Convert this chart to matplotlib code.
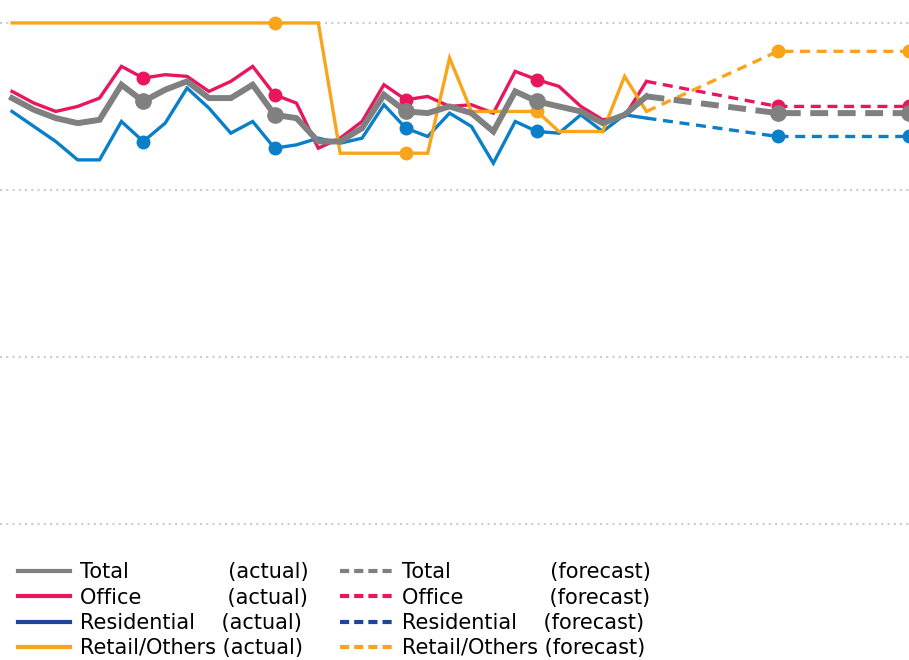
import matplotlib
matplotlib.use("Agg")
import matplotlib.pyplot as plt
from matplotlib.lines import Line2D

# actual series: 30 periods, forecast: 3 points (last actual + 2 ahead)
actual_periods = list(range(30))
forecast_periods = [29, 35, 41]

total_actual = [25.5, 24.8, 24.3, 24.0, 24.2, 26.3, 25.3, 26.0, 26.5, 25.5,
                25.5, 26.3, 24.5, 24.3, 22.9, 22.9, 23.7, 25.7, 24.7, 24.6,
                25.0, 24.6, 23.5, 25.9, 25.3, 25.0, 24.7, 24.0, 24.5, 25.6]
office_actual = [25.9, 25.2, 24.7, 25.0, 25.5, 27.4, 26.7, 26.9, 26.8, 25.9,
                 26.5, 27.4, 25.7, 25.2, 22.5, 23.1, 24.1, 26.3, 25.4, 25.6,
                 25.0, 25.1, 24.6, 27.1, 26.6, 26.2, 25.0, 24.2, 24.4, 26.5]
resid_actual = [24.7, 23.8, 22.9, 21.8, 21.8, 24.1, 22.9, 24.0, 26.1, 24.9,
                23.4, 24.1, 22.5, 22.7, 23.1, 22.8, 23.1, 25.1, 23.7, 23.2,
                24.6, 23.8, 21.6, 24.1, 23.5, 23.4, 24.5, 23.5, 24.5, 24.3]
retail_actual = [30.0, 30.0, 30.0, 30.0, 30.0, 30.0, 30.0, 30.0, 30.0, 30.0,
                 30.0, 30.0, 30.0, 30.0, 30.0, 22.2, 22.2, 22.2, 22.2, 22.2,
                 27.9, 24.7, 24.7, 24.7, 24.7, 23.5, 23.5, 23.5, 26.8, 24.7]

total_fc = [25.6, 24.6, 24.6]
office_fc = [26.5, 25.0, 25.0]
resid_fc = [24.3, 23.2, 23.2]
retail_fc = [24.7, 28.3, 28.3]

actual_labels = ["Total               (actual)", "Office             (actual)",
                 "Residential    (actual)", "Retail/Others (actual)"]
forecast_labels = ["Total               (forecast)", "Office             (forecast)",
                   "Residential    (forecast)", "Retail/Others (forecast)"]

GREY = "#808080"
RED = "#e8175d"
BLUE = "#0a7fc9"
NAVY = "#1d4599"
YELLOW = "#f9a51b"

fig = plt.figure(figsize=(9.09, 6.6), dpi=100)
ax = fig.add_axes([0.0, 0.196, 1.0, 0.7895])

series = [
    (resid_actual, resid_fc, BLUE, 2.4, 9, (3, 2), [6, 12, 18, 24]),
    (office_actual, office_fc, RED, 2.4, 9, (3, 2), [6, 12, 18, 24]),
    (retail_actual, retail_fc, YELLOW, 2.4, 9, (3, 2), [12, 18, 24]),
    (total_actual, total_fc, GREY, 4.3, 11, (3, 1.6), [6, 12, 18, 24]),
]
for act, fc, color, lw, ms, dash, marks in series:
    ax.plot(actual_periods, act, color=color, lw=lw, marker="o", ms=ms,
            markevery=marks, solid_joinstyle="miter")
    ax.plot(forecast_periods, fc, color=color, lw=lw, marker="o", ms=ms,
            markevery=[1, 2], linestyle=(0, dash))

ax.set_xlim(-0.55, 41)
ax.set_ylim(-0.4, 30.8)
ax.set_yticks([0, 10, 20, 30])
ax.set_xticks([])
ax.yaxis.grid(True, color="#cccccc", linestyle=(0, (1, 2)), lw=1.5)
ax.set_axisbelow(True)
ax.tick_params(left=False, labelleft=False)
for s in ax.spines.values():
    s.set_visible(False)

legend_colors = [GREY, RED, NAVY, YELLOW]
handles = [Line2D([], [], color=c, lw=3) for c in legend_colors]
handles += [Line2D([], [], color=c, lw=3, linestyle=(0, (2.2, 1.2))) for c in legend_colors]
fig.legend(handles, actual_labels + forecast_labels, ncol=2, loc="upper left",
           bbox_to_anchor=(0.02, 0.148), frameon=False, fontsize=15,
           handlelength=2.5, handletextpad=0.48, columnspacing=1.5,
           labelspacing=0.255, borderaxespad=0.0, borderpad=0.0)

fig.savefig("out.png", dpi=100)
